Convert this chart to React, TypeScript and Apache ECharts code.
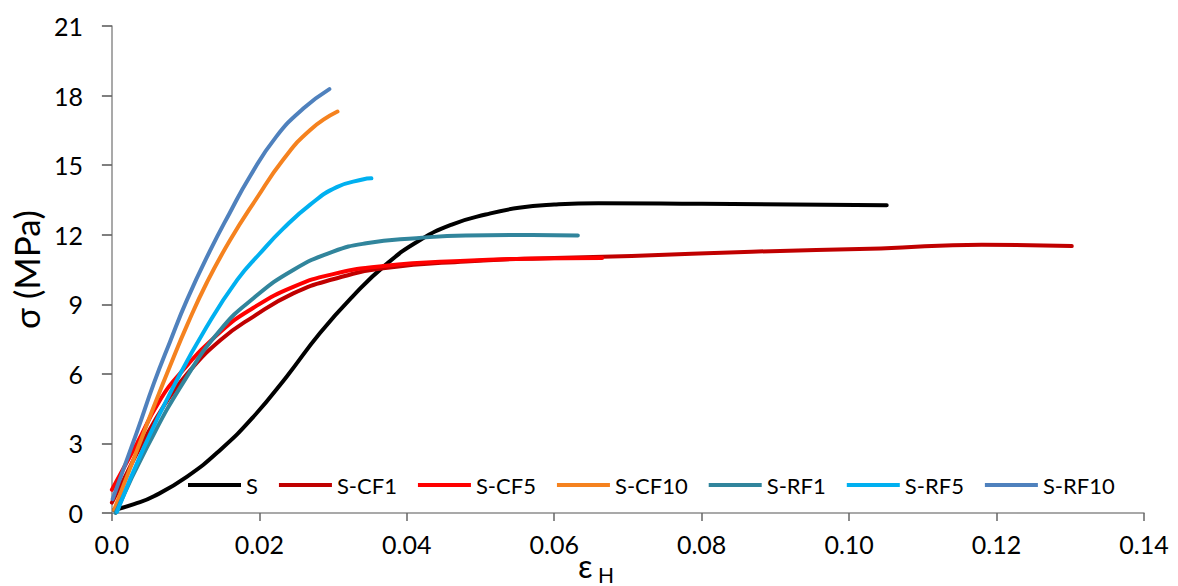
import React, { useEffect, useRef } from "react";
import * as echarts from "echarts";

const FONT = "Lato, 'Open Sans', 'DejaVu Sans', sans-serif";

const seriesNames = ["S", "S-CF1", "S-CF5", "S-CF10", "S-RF1", "S-RF5", "S-RF10"];
const seriesColors = ["#000000", "#C00000", "#FF0000", "#F5821F", "#31859C", "#00B0F0", "#4F81BD"];

const xTickLabels = ["0.0", "0.02", "0.04", "0.06", "0.08", "0.10", "0.12", "0.14"];
const yTickLabels = ["0", "3", "6", "9", "12", "15", "18", "21"];

const sXY = [
  [0.0003, 0.13], [0.003, 0.38], [0.0057, 0.72], [0.0102, 1.57], [0.0147, 2.72],
  [0.0192, 4.15], [0.0237, 5.88], [0.0282, 7.75], [0.0327, 9.35], [0.0372, 10.72],
  [0.0417, 11.75], [0.0462, 12.45], [0.0507, 12.87], [0.0552, 13.16], [0.06, 13.3],
  [0.066, 13.36], [0.08, 13.33], [0.1051, 13.27],
];
const cf1XY = [
  [0.0, 0.45], [0.002, 1.7], [0.0041, 3.0], [0.0072, 4.7], [0.0102, 6.0],
  [0.0147, 7.45], [0.0192, 8.47], [0.0246, 9.47], [0.03, 10.08], [0.0368, 10.55],
  [0.048, 10.85], [0.06, 11.0], [0.0705, 11.08], [0.0868, 11.27], [0.1043, 11.41],
  [0.118, 11.57], [0.1302, 11.51],
];
const cf5XY = [
  [0.0, 1.0], [0.0034, 3.0], [0.0063, 4.75], [0.0092, 6.0], [0.0147, 7.8],
  [0.0192, 8.85], [0.0246, 9.75], [0.03, 10.3], [0.0368, 10.65], [0.048, 10.88],
  [0.057, 10.97], [0.0665, 11.0],
];
const cf10XY = [
  [0.0003, 0.13], [0.0034, 2.7], [0.0057, 4.6], [0.0079, 6.35], [0.0102, 8.1],
  [0.0129, 9.95], [0.016, 11.75], [0.0196, 13.55], [0.0232, 15.22], [0.0269, 16.52],
  [0.0306, 17.31],
];
const rf1XY = [
  [0.0005, 0.0], [0.0048, 2.86], [0.0099, 5.74], [0.0147, 7.89], [0.0192, 9.26],
  [0.0246, 10.48], [0.03, 11.27], [0.0345, 11.63], [0.0413, 11.85], [0.048, 11.97],
  [0.057, 11.99], [0.0632, 11.97],
];
const rf5XY = [
  [0.0007, 0.05], [0.0043, 2.8], [0.0086, 5.6], [0.0128, 8.0], [0.017, 10.05],
  [0.0201, 11.2], [0.0232, 12.25], [0.0269, 13.3], [0.0305, 14.05], [0.034, 14.38],
  [0.0352, 14.43],
];
const rf10XY = [
  [0.0001, 0.6], [0.0034, 3.5], [0.0057, 5.6], [0.0079, 7.4], [0.0102, 9.2],
  [0.0133, 11.3], [0.016, 12.95], [0.0187, 14.5], [0.0223, 16.23], [0.026, 17.45],
  [0.0295, 18.28],
];

const allData = [sXY, cf1XY, cf5XY, cf10XY, rf1XY, rf5XY, rf10XY];

export default function App() {
  const ref = useRef<HTMLDivElement>(null);
  useEffect(() => {
    if (!ref.current) return;
    const chart = echarts.init(ref.current, undefined, { renderer: "svg" });
    const option = {
      animation: false,
      backgroundColor: "#ffffff",
      grid: { left: 108, right: 34, top: 26, bottom: 73, containLabel: false },
      legend: {
        left: 188,
        top: 473,
        padding: 0,
        icon: "rect",
        itemWidth: 53,
        itemHeight: 4,
        itemGap: 21,
        data: seriesNames,
        textStyle: { fontFamily: FONT, fontSize: 22, color: "#000", lineHeight: 24 },
      },
      xAxis: {
        type: "value",
        min: 0,
        max: 0.14,
        interval: 0.02,
        splitLine: { show: false },
        axisLine: { show: true, lineStyle: { color: "#8c8c8c", width: 1.5 } },
        axisTick: { show: true, inside: false, length: 8, lineStyle: { color: "#666", width: 1.5 } },
        axisLabel: {
          margin: 18,
          fontFamily: FONT,
          fontSize: 25,
          color: "#000",
          formatter: (v: number) => xTickLabels[Math.round(v / 0.02)] ?? "",
        },
      },
      yAxis: {
        type: "value",
        min: 0,
        max: 21,
        interval: 3,
        splitLine: { show: false },
        axisLine: { show: true, lineStyle: { color: "#8c8c8c", width: 1.5 } },
        axisTick: { show: true, inside: false, length: 10, lineStyle: { color: "#555", width: 1.5 } },
        axisLabel: {
          margin: 29,
          fontFamily: FONT,
          fontSize: 25,
          color: "#000",
          formatter: (v: number) => yTickLabels[Math.round(v / 3)] ?? "",
        },
        name: "σ (MPa)",
        nameLocation: "middle",
        nameGap: 64,
        nameTextStyle: { fontFamily: FONT, fontSize: 35, color: "#000" },
      },
      graphic: [
        {
          type: "text",
          x: 578,
          y: 549,
          style: { text: "ε", fontFamily: FONT, fontSize: 32, fill: "#000", align: "left", verticalAlign: "top" },
        },
        {
          type: "text",
          x: 598,
          y: 564,
          style: { text: "H", fontFamily: FONT, fontSize: 21, fill: "#000", align: "left", verticalAlign: "top" },
        },
      ],
      series: seriesNames.map((name, i) => ({
        name,
        type: "line",
        data: allData[i],
        showSymbol: false,
        symbol: "none",
        smooth: 0.5,
        lineStyle: { color: seriesColors[i], width: 4, cap: "round", join: "round" },
        itemStyle: { color: seriesColors[i] },
        z: 2 + i,
      })),
    };
    chart.setOption(option);
    return () => chart.dispose();
  }, []);
  return (
    <div
      ref={ref}
      style={{ position: "absolute", left: 0, top: 0, width: 1178, height: 586, background: "#fff" }}
    />
  );
}
